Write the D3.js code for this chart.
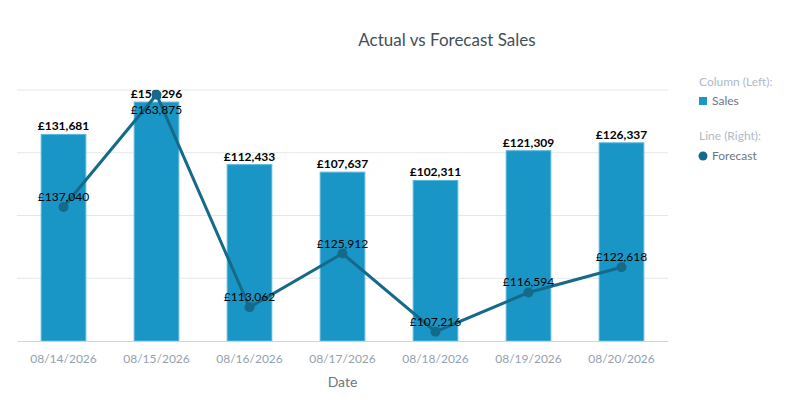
<!DOCTYPE html>
<html>
<head>
<meta charset="utf-8">
<script src="https://cdn.jsdelivr.net/npm/d3@7"></script>
<style>
  body { margin: 0; background: #fff; }
  svg { font-family: Lato, "Open Sans", sans-serif; }
</style>
</head>
<body>
<svg id="chart" width="789" height="402"></svg>
<script>
// Chart data
const dates = ['08/14/2026', '08/15/2026', '08/16/2026', '08/17/2026', '08/18/2026', '08/19/2026', '08/20/2026'];
const sales = [131681, 152296, 112433, 107637, 102311, 121309, 126337];
const forecast = [137040, 163875, 113062, 125912, 107216, 116594, 122618];
const leftTicks = [0, 40000, 80000, 120000, 160000];
const rightTicks = [105000, 120000, 135000, 150000, 165000];

const svg = d3.select('#chart');
const margin = { top: 90, left: 17, right: 668, bottom: 341 };

const x = d3.scaleBand()
    .domain(dates)
    .range([margin.left, margin.right])
    .paddingInner(0.52)
    .paddingOuter(0.26);

const yLeft = d3.scaleLinear()
    .domain([0, 160000])
    .range([margin.bottom, margin.top]);

const yRight = d3.scaleLinear()
    .domain([105000, 165000])
    .range([margin.bottom, margin.top]);

const money = v => '£' + d3.format(',')(v);

// Gridlines
svg.append('g')
    .selectAll('line')
    .data(leftTicks.slice(1))
    .join('line')
    .attr('x1', margin.left)
    .attr('x2', margin.right)
    .attr('y1', d => yLeft(d))
    .attr('y2', d => yLeft(d))
    .attr('stroke', '#e6e6e6')
    .attr('stroke-width', 1);

// Bars
svg.append('g')
    .selectAll('rect')
    .data(sales)
    .join('rect')
    .attr('x', (d, i) => x(dates[i]))
    .attr('y', d => yLeft(d))
    .attr('width', x.bandwidth())
    .attr('height', d => margin.bottom - yLeft(d))
    .attr('fill', '#1a96c6')
    .attr('stroke', '#5ab6dc')
    .attr('stroke-width', 1);

// X axis
const xAxis = svg.append('g')
    .attr('transform', `translate(0,${margin.bottom})`)
    .call(d3.axisBottom(x).tickSize(0).tickPadding(13));
xAxis.select('.domain').attr('stroke', '#ccd6e0');
xAxis.selectAll('text')
    .attr('fill', '#94a1ad')
    .attr('font-size', 12)
    .attr('font-family', 'Lato, sans-serif');

svg.append('text')
    .attr('x', (margin.left + margin.right) / 2)
    .attr('y', 387)
    .attr('text-anchor', 'middle')
    .attr('fill', '#6d7680')
    .attr('font-size', 14)
    .text('Date');

// Bar labels
svg.append('g')
    .selectAll('text')
    .data(sales)
    .join('text')
    .attr('x', (d, i) => x(dates[i]) + x.bandwidth() / 2)
    .attr('y', d => yLeft(d) - 4)
    .attr('text-anchor', 'middle')
    .attr('font-size', 12)
    .attr('font-weight', 'bold')
    .attr('fill', '#000')
    .text(d => money(d));

// Forecast line
const cx = i => x(dates[i]) + x.bandwidth() / 2;
const line = d3.line()
    .x((d, i) => cx(i))
    .y(d => yRight(d));

svg.append('path')
    .datum(forecast)
    .attr('d', line)
    .attr('fill', 'none')
    .attr('stroke', '#156a89')
    .attr('stroke-width', 3);

svg.append('g')
    .selectAll('circle')
    .data(forecast)
    .join('circle')
    .attr('cx', (d, i) => cx(i))
    .attr('cy', d => yRight(d))
    .attr('r', 5)
    .attr('fill', '#156a89');

// Line labels - flip below the point when there's no room above
svg.append('g')
    .selectAll('text')
    .data(forecast)
    .join('text')
    .attr('x', (d, i) => cx(i))
    .attr('y', d => {
        const py = yRight(d);
        return py - 18 < margin.top ? py + 19 : py - 6;
    })
    .attr('text-anchor', 'middle')
    .attr('font-size', 12)
    .attr('fill', '#000')
    .text(d => money(d));

// Title
svg.append('text')
    .attr('x', 447)
    .attr('y', 46)
    .attr('text-anchor', 'middle')
    .attr('fill', '#464e56')
    .attr('font-size', 17)
    .text('Actual vs Forecast Sales');

// Legend
const legend = svg.append('g').attr('transform', 'translate(699,0)');
legend.append('text')
    .attr('x', 0).attr('y', 86)
    .attr('fill', '#b0bac4').attr('font-size', 12)
    .text('Column (Left):');
legend.append('rect')
    .attr('x', 0).attr('y', 97)
    .attr('width', 8).attr('height', 8)
    .attr('fill', '#1a96c6');
legend.append('text')
    .attr('x', 13).attr('y', 105)
    .attr('fill', '#6d7680').attr('font-size', 12)
    .text('Sales');
legend.append('text')
    .attr('x', 0).attr('y', 140)
    .attr('fill', '#b0bac4').attr('font-size', 12)
    .text('Line (Right):');
legend.append('circle')
    .attr('cx', 4).attr('cy', 156)
    .attr('r', 4.5)
    .attr('fill', '#156a89');
legend.append('text')
    .attr('x', 13).attr('y', 160)
    .attr('fill', '#6d7680').attr('font-size', 12)
    .text('Forecast');
</script>
</body>
</html>
